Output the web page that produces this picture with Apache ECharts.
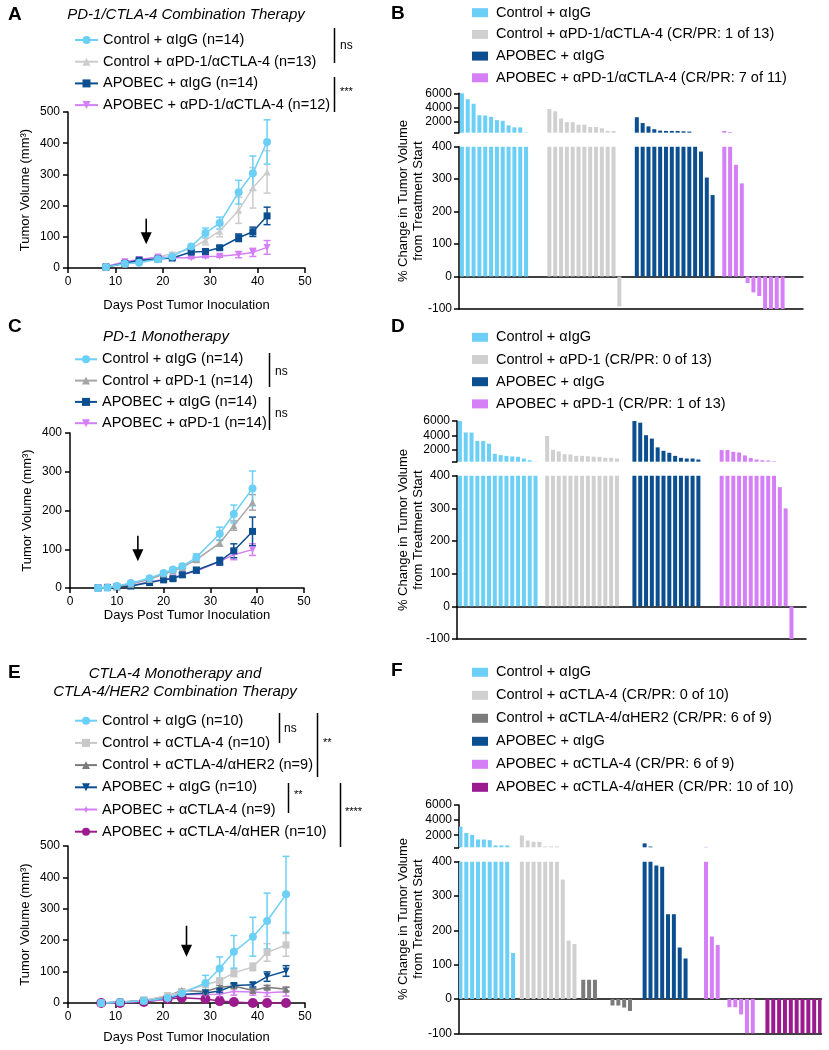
<!DOCTYPE html>
<html><head><meta charset="utf-8">
<script src="https://cdn.jsdelivr.net/npm/echarts@6/dist/echarts.min.js"></script>
<style>html,body{margin:0;padding:0;background:#fff}#c{width:829px;height:1050px}</style>
</head><body><div id="c"></div>
<script>
// ================= DATA =================
// Panel A: PD-1/CTLA-4 combination (tumor growth)
const daysA = [8, 12, 15, 19, 22, 26, 29, 32, 36, 39, 42];
const aCtrlIgG = [3, 14, 17, 28, 37, 69, 112, 144, 243, 304, 404];
const aCtrlIgGErr = [1, 2, 2, 3, 4, 6, 16, 19, 38, 55, 71];
const aCtrlCombo = [3, 14, 20, 35, 46, 62, 89, 118, 185, 257, 308];
const aCtrlComboErr = [1, 2, 2, 3, 4, 6, 15, 18, 42, 65, 68];
const aApoIgG = [3, 15, 25, 29, 32, 51, 53, 65, 97, 116, 167];
const aApoIgGErr = [1, 2, 2, 3, 3, 4, 5, 5, 12, 15, 28];
const aApoCombo = [5, 20, 27, 35, 33, 33, 37, 38, 43, 50, 66];
const aApoComboErr = [1, 2, 3, 3, 3, 3, 4, 4, 10, 13, 22];
const arrowA = [16.5, 158, 76]; // day, from, to

// Panel C: PD-1 monotherapy
const daysC = [6, 8, 10, 13, 17, 20, 22, 24, 27, 32, 35, 39];
const cCtrlIgG = [0, 1, 5, 13, 25, 39, 48, 56, 79, 140, 191, 257];
const cCtrlIgGErr = [0, 1, 1, 2, 3, 4, 4, 5, 9, 17, 23, 45];
const cCtrlPD1 = [0, 1, 4, 10, 22, 36, 44, 53, 73, 116, 161, 221];
const cCtrlPD1Err = [0, 1, 1, 2, 3, 3, 4, 4, 6, 8, 12, 20];
const cApoIgG = [0, 1, 3, 5, 14, 21, 24, 34, 46, 69, 96, 146];
const cApoIgGErr = [0, 1, 1, 1, 2, 3, 4, 5, 7, 10, 18, 37];
const cApoPD1 = [0, 2, 4, 6, 16, 22, 26, 34, 44, 68, 86, 99];
const cApoPD1Err = [0, 1, 1, 1, 2, 3, 3, 4, 5, 8, 13, 15];
const arrowC = [14.5, 135, 69];

// Panel E: CTLA-4 mono and CTLA-4/HER2 combination
const daysE = [7, 11, 16, 21, 24, 29, 32, 35, 39, 42, 46];
const eCtrlIgG = [0, 2, 6, 16, 31, 64, 110, 163, 211, 261, 346];
const eCtrlIgGErr = [0, 1, 3, 4, 6, 24, 37, 52, 62, 89, 121];
const eCtrlCTLA4 = [0, 3, 8, 24, 35, 58, 71, 96, 115, 161, 185];
const eCtrlCTLA4Err = [0, 1, 2, 3, 4, 8, 8, 12, 12, 28, 36];
const eCtrlCombo = [0, 3, 7, 22, 40, 37, 50, 54, 40, 50, 44];
const eCtrlComboErr = [0, 1, 2, 3, 4, 5, 6, 6, 6, 6, 6];
const eApoIgG = [0, 2, 9, 14, 27, 32, 38, 56, 58, 84, 102];
const eApoIgGErr = [0, 1, 6, 3, 4, 4, 5, 6, 7, 15, 17];
const eApoCTLA4 = [0, 2, 6, 12, 27, 27, 28, 37, 35, 33, 36];
const eApoCTLA4Err = [0, 1, 2, 3, 4, 6, 8, 12, 10, 12, 14];
const eApoCombo = [0, 0, 3, 13, 17, 13, 6, 3, 0, 0, 0];
const eApoComboErr = [0, 0, 1, 2, 3, 3, 2, 1, 0, 0, 0];
const arrowE = [25, 246, 147];

// Panel B waterfall (% change)
const bCtrlIgG = [6000, 5160, 4510, 2880, 2840, 2650, 2190, 2090, 1440, 1160, 1160, 450];
const bCtrlCombo = [3770, 3440, 2420, 1900, 1900, 1540, 1540, 1210, 1210, 1020, 650, 650, -92];
const bApoIgG = [2600, 1770, 1300, 900, 700, 650, 650, 650, 600, 560, 400, 385, 305, 251];
const bApoCombo = [650, 500, 344, 287, -20, -49, -60, -100, -100, -100, -100];

// Panel D waterfall
const dCtrlIgG = [6000, 4420, 4400, 3260, 3260, 2880, 1490, 1300, 1200, 1120, 1070, 840, 600, 420];
const dCtrlPD1 = [3950, 2050, 1810, 1440, 1400, 1200, 1200, 1150, 1100, 1070, 930, 930, 840];
const dApoIgG = [6000, 5770, 4050, 3580, 2370, 1900, 1630, 1200, 930, 840, 840, 700];
const dApoPD1 = [2000, 2000, 1770, 1670, 1260, 900, 700, 600, 560, 470, 365, 300, -100];

// Panel F waterfall
const fCtrlIgG = [3130, 2300, 2040, 1430, 1430, 1350, 650, 650, 650, 134];
const fCtrlCTLA4 = [1960, 1300, 1130, 1130, 520, 520, 520, 348, 170, 160];
const fCtrlCombo = [56, 56, 56, 0, 0, -19, -19, -25, -35];
const fApoIgG = [920, 500, 389, 385, 247, 247, 150, 118];
const fApoCTLA4 = [450, 182, 157, 0, -24, -24, -45, -100, -100];
const fApoCombo = [-100, -100, -100, -100, -100, -100, -100, -100, -100, -100];

// Tick labels
const topBarLabels = [2000, 4000, 6000];
const topBarTicks = [400, 2000, 4000, 6000];

// ================= STYLE =================
const FONT = "'Liberation Sans', Arial, Helvetica, sans-serif";
const LB = '#6ccff6', LG = '#d0d0d0', DB = '#0b4f91', VI = '#d47ff5', DG = '#7b7b7b', PU = '#9b1b8e', MG = '#a5a5a5';
const BREAK = 400;

const axLine = {show: true, onZero: false, lineStyle: {color: '#000', width: 1.5}};
const axTick = {show: true, length: 5, lineStyle: {color: '#000', width: 1.5}};
const axLabel = {color: '#000', fontSize: 12, fontFamily: FONT, margin: 8, formatter: v => String(v)};

// ================= GRIDS =================
const grids = [
  {left: 68, top: 112, width: 237, height: 156},     // 0 A
  {left: 70, top: 433, width: 234, height: 155},     // 1 C
  {left: 68, top: 846, width: 237, height: 157},     // 2 E
  {left: 459, top: 93.3, width: 344, height: 39.4},  // 3 B top
  {left: 459, top: 146.7, width: 344, height: 162.3},// 4 B bottom
  {left: 457, top: 421, width: 349, height: 40.7},   // 5 D top
  {left: 457, top: 475.7, width: 349, height: 163.3},// 6 D bottom
  {left: 459, top: 805, width: 362.5, height: 42.3}, // 7 F top
  {left: 459, top: 861.7, width: 362.5, height: 171.6} // 8 F bottom
].map(g => Object.assign({outerBoundsMode: 'none', containLabel: false}, g));

const xAxes = [], yAxes = [], series = [];

function lineAxes(gi, ymax, nameGapX) {
  xAxes.push({gridIndex: gi, type: 'value', min: 0, max: 50, interval: 10,
    axisLine: axLine, axisTick: axTick, axisLabel: axLabel, splitLine: {show: false},
    name: 'Days Post Tumor Inoculation', nameLocation: 'middle', nameGap: nameGapX,
    nameTextStyle: {color: '#000', fontSize: 13, fontFamily: FONT}});
  yAxes.push({gridIndex: gi, type: 'value', min: 0, max: ymax, interval: 100,
    axisLine: axLine, axisTick: axTick, axisLabel: axLabel, splitLine: {show: false},
    name: 'Tumor Volume (mm³)', nameLocation: 'middle', nameGap: 36,
    nameTextStyle: {color: '#000', fontSize: 13, fontFamily: FONT}});
}
lineAxes(0, 500, 31);
lineAxes(1, 400, 18);
lineAxes(2, 500, 28);

function errSeries(gi, days, vals, errs, color) {
  return {type: 'custom', xAxisIndex: gi, yAxisIndex: gi, silent: true, z: 2, clip: false,
    encode: {x: 0, y: [1, 2]},
    data: days.map((d, i) => [d, vals[i] - errs[i], vals[i] + errs[i]]),
    renderItem(p, api) {
      const lo = api.coord([api.value(0), api.value(1)]);
      const hi = api.coord([api.value(0), api.value(2)]);
      const hw = 3.5, st = {stroke: color, lineWidth: 1.5};
      return {type: 'group', children: [
        {type: 'line', shape: {x1: hi[0], y1: hi[1], x2: lo[0], y2: lo[1]}, style: st},
        {type: 'line', shape: {x1: hi[0] - hw, y1: hi[1], x2: hi[0] + hw, y2: hi[1]}, style: st},
        {type: 'line', shape: {x1: lo[0] - hw, y1: lo[1], x2: lo[0] + hw, y2: lo[1]}, style: st}]};
    }};
}
function arrowSeries(gi, a) {
  return {type: 'custom', xAxisIndex: gi, yAxisIndex: gi, silent: true, z: 10, clip: false,
    encode: {x: 0, y: [1, 2]}, data: [a],
    renderItem(p, api) {
      const top = api.coord([api.value(0), api.value(1)]);
      const tip = api.coord([api.value(0), api.value(2)]);
      const hl = 12, hw = 5.5;
      return {type: 'group', children: [
        {type: 'line', shape: {x1: top[0], y1: top[1], x2: tip[0], y2: tip[1] - hl + 1}, style: {stroke: '#000', lineWidth: 1.6}},
        {type: 'polygon', shape: {points: [[tip[0], tip[1]], [tip[0] - hw, tip[1] - hl], [tip[0] + hw, tip[1] - hl]]}, style: {fill: '#000'}}]};
    }};
}
function lineGroup(gi, days, g) {
  series.push(errSeries(gi, days, g.vals, g.errs, g.color));
  series.push({type: 'line', name: g.name, xAxisIndex: gi, yAxisIndex: gi,
    data: days.map((d, i) => [d, g.vals[i]]), symbol: g.symbol, symbolSize: g.size,
    symbolRotate: g.rotate || 0, showSymbol: true, clip: false, z: 3,
    lineStyle: {color: g.color, width: 1.5}, itemStyle: {color: g.color}});
}
const STAR4 = 'path://M0,-10 L2.6,-2.6 L10,0 L2.6,2.6 L0,10 L-2.6,2.6 L-10,0 L-2.6,-2.6 Z';

// Panel A
const nA = ['Control + αIgG (n=14)', 'Control + αPD-1/αCTLA-4 (n=13)', 'APOBEC + αIgG (n=14)', 'APOBEC + αPD-1/αCTLA-4 (n=12)'];
lineGroup(0, daysA, {name: nA[1], vals: aCtrlCombo, errs: aCtrlComboErr, color: '#cccccc', symbol: 'triangle', size: 7});
lineGroup(0, daysA, {name: nA[3], vals: aApoCombo, errs: aApoComboErr, color: VI, symbol: 'triangle', size: 7, rotate: 180});
lineGroup(0, daysA, {name: nA[2], vals: aApoIgG, errs: aApoIgGErr, color: DB, symbol: 'rect', size: 7});
lineGroup(0, daysA, {name: nA[0], vals: aCtrlIgG, errs: aCtrlIgGErr, color: LB, symbol: 'circle', size: 8});
series.push(arrowSeries(0, arrowA));

// Panel C
const nC = ['Control + αIgG (n=14)', 'Control + αPD-1 (n=14)', 'APOBEC + αIgG (n=14)', 'APOBEC + αPD-1 (n=14)'];
lineGroup(1, daysC, {name: nC[3], vals: cApoPD1, errs: cApoPD1Err, color: VI, symbol: 'triangle', size: 7, rotate: 180});
lineGroup(1, daysC, {name: nC[2], vals: cApoIgG, errs: cApoIgGErr, color: DB, symbol: 'rect', size: 7});
lineGroup(1, daysC, {name: nC[1], vals: cCtrlPD1, errs: cCtrlPD1Err, color: MG, symbol: 'triangle', size: 7});
lineGroup(1, daysC, {name: nC[0], vals: cCtrlIgG, errs: cCtrlIgGErr, color: LB, symbol: 'circle', size: 8});
series.push(arrowSeries(1, arrowC));

// Panel E
const nE = ['Control + αIgG (n=10)', 'Control + αCTLA-4 (n=10)', 'Control + αCTLA-4/αHER2 (n=9)', 'APOBEC + αIgG (n=10)', 'APOBEC + αCTLA-4 (n=9)', 'APOBEC + αCTLA-4/αHER (n=10)'];
lineGroup(2, daysE, {name: nE[5], vals: eApoCombo, errs: eApoComboErr, color: PU, symbol: 'circle', size: 10});
lineGroup(2, daysE, {name: nE[4], vals: eApoCTLA4, errs: eApoCTLA4Err, color: VI, symbol: STAR4, size: 8});
lineGroup(2, daysE, {name: nE[2], vals: eCtrlCombo, errs: eCtrlComboErr, color: DG, symbol: 'triangle', size: 7});
lineGroup(2, daysE, {name: nE[3], vals: eApoIgG, errs: eApoIgGErr, color: DB, symbol: 'triangle', size: 7, rotate: 180});
lineGroup(2, daysE, {name: nE[1], vals: eCtrlCTLA4, errs: eCtrlCTLA4Err, color: '#c8c8c8', symbol: 'rect', size: 7});
lineGroup(2, daysE, {name: nE[0], vals: eCtrlIgG, errs: eCtrlIgGErr, color: LB, symbol: 'circle', size: 8});
series.push(arrowSeries(2, arrowE));

// ================= BAR PANELS =================
function spread(vals, start, step, n, fn) {
  const out = new Array(n).fill('-');
  vals.forEach((v, j) => { out[start + j * step] = fn(v); });
  return out;
}
function barPanel(gTop, gBot, nCat, groups) {
  const cats = Array.from({length: nCat}, (_, i) => 'c' + i);
  const xt = xAxes.length;
  xAxes.push({gridIndex: gTop, type: 'category', data: cats, show: false});
  xAxes.push({gridIndex: gBot, type: 'category', data: cats, position: 'bottom',
    axisLine: {show: true, onZero: true, lineStyle: {color: '#000', width: 1.5}},
    axisTick: {show: false}, axisLabel: {show: false}, splitLine: {show: false}});
  xAxes.push({gridIndex: gBot, type: 'category', data: cats, position: 'bottom',
    axisLine: {show: true, onZero: false, lineStyle: {color: '#000', width: 1.5}},
    axisTick: {show: false}, axisLabel: {show: false}, splitLine: {show: false}});
  const yt = yAxes.length;
  yAxes.push({gridIndex: gTop, type: 'value', min: BREAK, max: 6000,
    axisLine: axLine, axisTick: Object.assign({}, axTick, {customValues: topBarTicks}),
    axisLabel: Object.assign({}, axLabel, {margin: 7, customValues: topBarLabels}), splitLine: {show: false}});
  yAxes.push({gridIndex: gBot, type: 'value', min: -100, max: BREAK, interval: 100,
    axisLine: axLine, axisTick: axTick, axisLabel: Object.assign({}, axLabel, {margin: 7}), splitLine: {show: false}});
  groups.forEach(g => {
    const common = {type: 'bar', name: g.name, barWidth: 4, barGap: '-100%', silent: true,
      itemStyle: {color: g.color}};
    series.push(Object.assign({}, common, {xAxisIndex: xt, yAxisIndex: yt,
      data: spread(g.vals, g.start, g.step, nCat, v => v > BREAK ? v : '-')}));
    series.push(Object.assign({}, common, {xAxisIndex: xt + 1, yAxisIndex: yt + 1,
      data: spread(g.vals, g.start, g.step, nCat, v => Math.max(-100, Math.min(BREAK, v)))}));
  });
}
const nB = ['Control + αIgG', 'Control + αPD-1/αCTLA-4 (CR/PR: 1 of 13)', 'APOBEC + αIgG', 'APOBEC + αPD-1/αCTLA-4 (CR/PR: 7 of 11)'];
barPanel(3, 4, 59, [
  {name: nB[0], vals: bCtrlIgG, color: LB, start: 0, step: 1},
  {name: nB[1], vals: bCtrlCombo, color: LG, start: 15, step: 1},
  {name: nB[2], vals: bApoIgG, color: DB, start: 30, step: 1},
  {name: nB[3], vals: bApoCombo, color: VI, start: 45, step: 1}]);
const nD = ['Control + αIgG', 'Control + αPD-1 (CR/PR: 0 of 13)', 'APOBEC + αIgG', 'APOBEC + αPD-1 (CR/PR: 1 of 13)'];
barPanel(5, 6, 60, [
  {name: nD[0], vals: dCtrlIgG, color: LB, start: 0, step: 1},
  {name: nD[1], vals: dCtrlPD1, color: LG, start: 15, step: 1},
  {name: nD[2], vals: dApoIgG, color: DB, start: 30, step: 1},
  {name: nD[3], vals: dApoPD1, color: VI, start: 45, step: 1}]);
const nF = ['Control + αIgG', 'Control + αCTLA-4 (CR/PR: 0 of 10)', 'Control + αCTLA-4/αHER2 (CR/PR: 6 of 9)', 'APOBEC + αIgG', 'APOBEC + αCTLA-4 (CR/PR: 6 of 9)', 'APOBEC + αCTLA-4/αHER (CR/PR: 10 of 10)'];
barPanel(7, 8, 124, [
  {name: nF[0], vals: fCtrlIgG, color: LB, start: 0, step: 2},
  {name: nF[1], vals: fCtrlCTLA4, color: LG, start: 21, step: 2},
  {name: nF[2], vals: fCtrlCombo, color: DG, start: 42, step: 2},
  {name: nF[3], vals: fApoIgG, color: DB, start: 63, step: 2},
  {name: nF[4], vals: fApoCTLA4, color: VI, start: 84, step: 2},
  {name: nF[5], vals: fApoCombo, color: PU, start: 105, step: 2}]);

// ================= LEGENDS =================
function lineLegend(names, left, top, rowH, iw) {
  return {data: names, orient: 'vertical', left, top, padding: 0, itemWidth: iw, itemHeight: 10,
    itemGap: rowH - 16, selectedMode: false,
    textStyle: {color: '#000', fontSize: 14.5, fontFamily: FONT, lineHeight: 16}};
}
function barLegend(names, left, top, rowH) {
  return {data: names.map(n => ({name: n, icon: 'rect'})), orient: 'vertical', left, top, padding: 0,
    itemWidth: 16, itemHeight: 9, itemGap: rowH - 16, selectedMode: false,
    textStyle: {color: '#000', fontSize: 14.5, fontFamily: FONT, lineHeight: 16, padding: [0, 0, 0, 3]}};
}
const legends = [
  lineLegend(nA, 74, 32, 21.7, 23),
  lineLegend(nC, 74, 351.3, 21.3, 22),
  lineLegend(nE, 74, 712.7, 22.2, 22),
  barLegend(nB, 472, 4.7, 21.7),
  barLegend(nD, 472, 329.3, 22.2),
  barLegend(nF, 472, 664.3, 23)
];

// ================= ANNOTATIONS =================
const els = [];
function T(x, y, text, o) {
  els.push({type: 'text', x, y, silent: true, style: Object.assign({text, fill: '#000', fontFamily: FONT, fontSize: 12, align: 'left', verticalAlign: 'middle'}, o || {})});
}
function L(x1, y1, x2, y2) {
  els.push({type: 'line', silent: true, shape: {x1, y1, x2, y2}, style: {stroke: '#000', lineWidth: 1.5}});
}
// panel letters
[['A', 8, 15], ['B', 391, 14], ['C', 8, 327], ['D', 391, 327], ['E', 8, 673], ['F', 391, 671]]
  .forEach(([t, x, y]) => T(x, y, t, {fontSize: 19, fontWeight: 'bold'}));
// titles
T(186, 15, 'PD-1/CTLA-4 Combination Therapy', {fontSize: 15, fontStyle: 'italic', align: 'center'});
T(166, 337, 'PD-1 Monotherapy', {fontSize: 15, fontStyle: 'italic', align: 'center'});
T(175, 683, 'CTLA-4 Monotherapy and\nCTLA-4/HER2 Combination Therapy', {fontSize: 15, fontStyle: 'italic', align: 'center', lineHeight: 18});
// significance
L(334.5, 28, 334.5, 63); T(340, 46, 'ns');
L(334.5, 77, 334.5, 112); T(340, 92, '***', {fontSize: 11});
L(269.5, 353, 269.5, 387); T(275, 372, 'ns');
L(269.5, 397, 269.5, 430); T(275, 414, 'ns');
L(279.5, 713, 279.5, 743); T(284, 729, 'ns');
L(317.5, 713, 317.5, 777); T(323, 743, '**', {fontSize: 11});
L(288.5, 783, 288.5, 813); T(294, 795, '**', {fontSize: 11});
L(340.5, 783, 340.5, 847); T(345, 812, '****', {fontSize: 11});
// waterfall y titles
[201, 530, 919].forEach(cy => els.push({type: 'text', x: 411, y: cy, rotation: Math.PI / 2, silent: true,
  style: {text: '% Change in Tumor Volume\nfrom Treatment Start', fill: '#000', fontFamily: FONT, fontSize: 13,
    lineHeight: 14.5, align: 'center', verticalAlign: 'middle'}}));

const chart = echarts.init(document.getElementById('c'), null, {renderer: 'canvas'});
chart.setOption({
  animation: false, backgroundColor: '#fff', textStyle: {fontFamily: FONT},
  grid: grids, xAxis: xAxes, yAxis: yAxes, legend: legends, series,
  graphic: {elements: els}
});
</script></body></html>
